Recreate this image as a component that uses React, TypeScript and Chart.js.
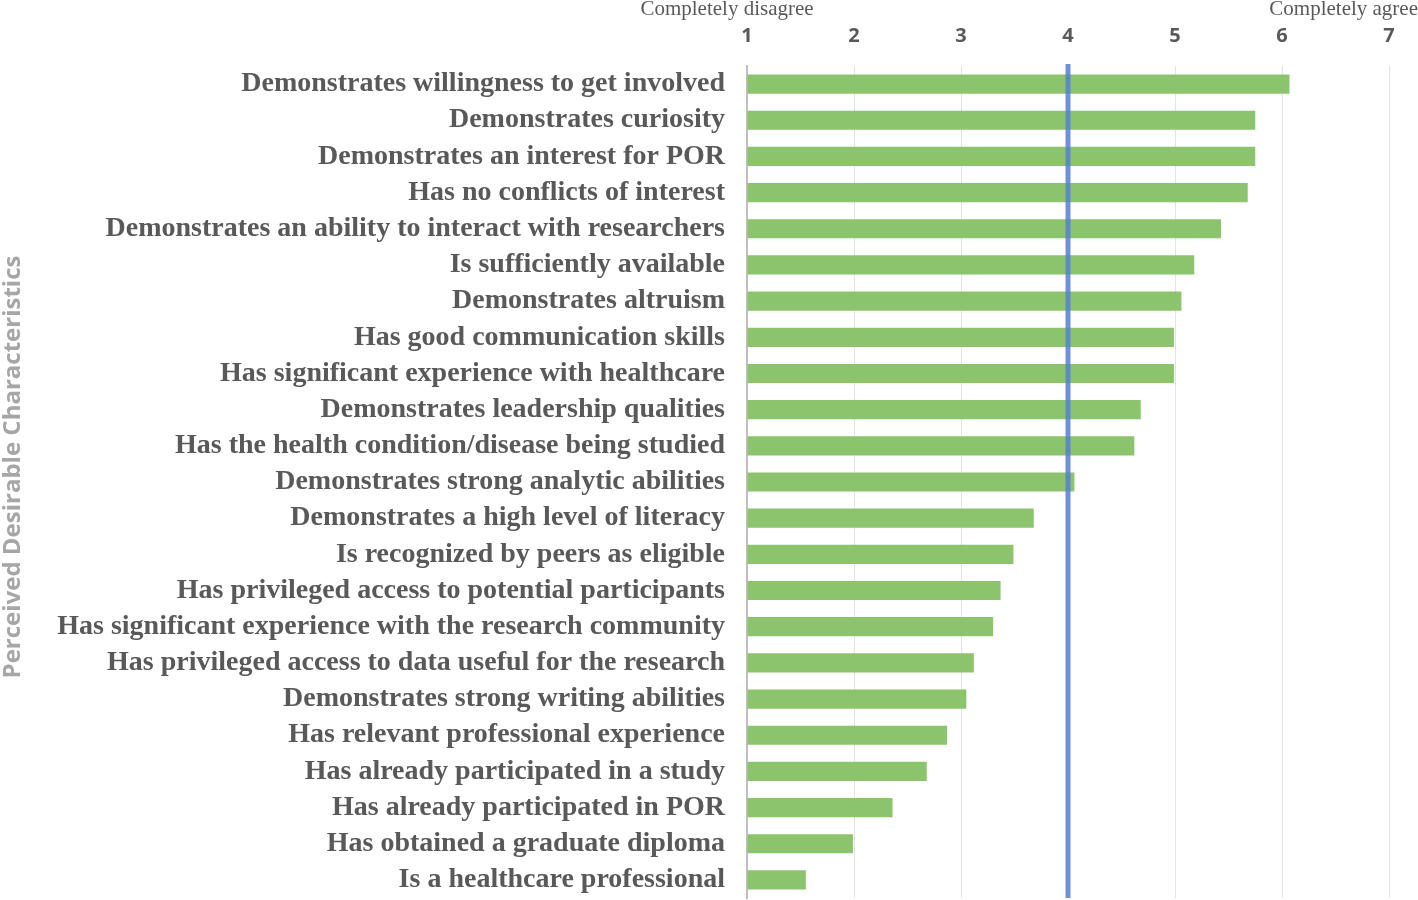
import React, { useEffect, useRef } from "react";
import { Chart, registerables } from "chart.js";

Chart.register(...registerables);

const categories: string[] = [
  "Demonstrates willingness to get involved",
  "Demonstrates curiosity",
  "Demonstrates an interest for POR",
  "Has no conflicts of interest",
  "Demonstrates an ability to interact with researchers",
  "Is sufficiently available",
  "Demonstrates altruism",
  "Has good communication skills",
  "Has significant experience with healthcare",
  "Demonstrates leadership qualities",
  "Has the health condition/disease being studied",
  "Demonstrates strong analytic abilities",
  "Demonstrates a high level of literacy",
  "Is recognized by peers as eligible",
  "Has privileged access to potential participants",
  "Has significant experience with the research community",
  "Has privileged access to data useful for the research",
  "Demonstrates strong writing abilities",
  "Has relevant professional experience",
  "Has already participated in a study",
  "Has already participated in POR",
  "Has obtained a graduate diploma",
  "Is a healthcare professional",
];

const meanScores: number[] = [
  6.07, 5.75, 5.75, 5.68, 5.43, 5.18, 5.06, 4.99, 4.99, 4.68, 4.62, 4.06,
  3.68, 3.49, 3.37, 3.3, 3.12, 3.05, 2.87, 2.68, 2.36, 1.99, 1.55,
];

const scaleMin = 1;
const scaleMax = 7;
const neutralValue = 4;
const leftAnchorLabel = "Completely disagree";
const rightAnchorLabel = "Completely agree";
const axisTitle = "Perceived Desirable Characteristics";

export default function App() {
  const canvasRef = useRef<HTMLCanvasElement | null>(null);

  useEffect(() => {
    if (!canvasRef.current) return;

    const overlay = {
      id: "overlay",
      afterDatasetsDraw(chart: any) {
        const { ctx, chartArea, scales } = chart;
        const xs = scales.x;
        const xp = xs.getPixelForValue(neutralValue);
        ctx.save();
        ctx.strokeStyle = "rgba(86,128,210,0.85)";
        ctx.lineWidth = 5;
        ctx.beginPath();
        ctx.moveTo(xp, chartArea.top - 2);
        ctx.lineTo(xp, chartArea.bottom);
        ctx.stroke();
        ctx.restore();
      },
      afterDraw(chart: any) {
        const { ctx, scales, width, chartArea } = chart;
        const xs = scales.x;
        ctx.save();
        ctx.fillStyle = "#595959";
        ctx.font = "21px 'Liberation Serif', 'Times New Roman', serif";
        ctx.textBaseline = "middle";
        ctx.textAlign = "center";
        ctx.fillText(leftAnchorLabel, xs.getPixelForValue(scaleMin) - 20, 9);
        ctx.textAlign = "right";
        ctx.fillText(rightAnchorLabel, width, 9);

        ctx.translate(13, (chartArea.top + chartArea.bottom) / 2 - 15);
        ctx.rotate(-Math.PI / 2);
        ctx.textAlign = "center";
        ctx.fillStyle = "#a6a6a6";
        ctx.font = "bold 24px 'Open Sans', sans-serif";
        ctx.fillText(axisTitle, 0, 0);
        ctx.restore();
      },
    };

    const chart = new Chart(canvasRef.current, {
      type: "bar",
      data: {
        labels: categories,
        datasets: [
          {
            data: meanScores,
            base: scaleMin,
            backgroundColor: "#8CC46D",
            borderWidth: 0,
            barPercentage: 0.53,
            categoryPercentage: 1,
          } as any,
        ],
      },
      options: {
        indexAxis: "y",
        animation: false,
        responsive: true,
        maintainAspectRatio: false,
        layout: { padding: { top: 0, right: 29, bottom: 2, left: 0 } },
        plugins: {
          legend: { display: false },
          tooltip: { enabled: false },
        },
        scales: {
          x: {
            position: "top",
            min: scaleMin,
            max: scaleMax,
            ticks: {
              stepSize: 1,
              color: "#595959",
              font: { family: "'Open Sans', sans-serif", size: 20, weight: "bold" },
              padding: 18,
            },
            grid: { color: "#e3e3e3", lineWidth: 1, drawTicks: false },
            border: { display: false },
            afterFit(scale: any) {
              scale.height = 66;
            },
          },
          y: {
            ticks: {
              color: "#595959",
              font: { family: "'Liberation Serif', 'Times New Roman', serif", size: 28, weight: "bold" },
              padding: 22,
              autoSkip: false,
            },
            grid: { display: false, drawTicks: false },
            border: { display: true, color: "#bfbfbf", width: 2 },
            afterFit(scale: any) {
              scale.width = 747;
              scale.paddingTop = 0;
              scale.paddingBottom = 0;
            },
          },
        },
      },
      plugins: [overlay],
    } as any);

    return () => chart.destroy();
  }, []);

  return (
    <div style={{ position: "fixed", left: 0, top: 0, width: 1418, height: 900, background: "#fff" }}>
      <canvas ref={canvasRef} />
    </div>
  );
}
